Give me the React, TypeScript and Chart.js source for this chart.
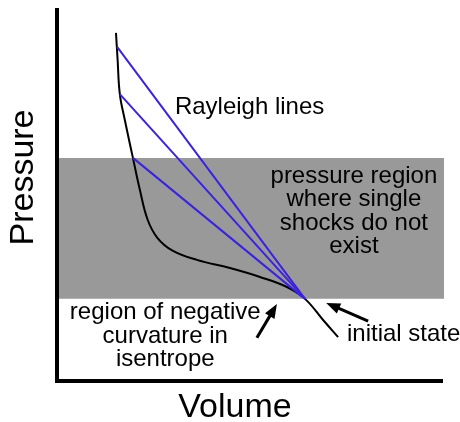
import { useEffect, useRef } from "react";
import { Chart, registerables } from "chart.js";

Chart.register(...registerables);

// Isentrope (volume, pressure) in arbitrary units
const isentropeVolume = [14.8, 15.2, 15.8, 17.1, 19.2, 21.0, 23.0, 25.6, 29.5, 35.8, 44.4, 52.2, 59.2, 63.9, 68.6, 72.5];
const isentropePressure = [93.3, 86.5, 76.8, 69.8, 59.6, 51.0, 43.0, 38.0, 34.6, 32.1, 29.9, 27.5, 24.8, 21.6, 15.9, 11.3];

// Shocked end states of the Rayleigh lines (on the isentrope)
const rayleighVolume = [15.1, 15.8, 19.2];
const rayleighPressure = [89.5, 76.8, 59.6];

// Initial state shared by all Rayleigh lines
const initialVolume = 63.9;
const initialPressure = 21.6;

// Pressure band where single shocks do not exist
const bandLow = initialPressure;
const bandHigh = 59.6;

const axisLabels = ["Volume", "Pressure"];
const rayleighLabel = ["Rayleigh lines"];
const bandLabel = ["pressure region", "where single", "shocks do not", "exist"];
const curvatureLabel = ["region of negative", "curvature in", "isentrope"];
const initialLabel = ["initial state"];

const FONT = '"Liberation Sans", Arial, Helvetica, sans-serif';
const BLUE = "#3b22e0";

function drawArrow(ctx: CanvasRenderingContext2D, x1: number, y1: number, x2: number, y2: number) {
  const a = Math.atan2(y2 - y1, x2 - x1);
  const headLen = 14;
  const headHalf = 5.5;
  const bx = x2 - headLen * Math.cos(a);
  const by = y2 - headLen * Math.sin(a);
  ctx.save();
  ctx.strokeStyle = "#000";
  ctx.fillStyle = "#000";
  ctx.lineWidth = 3;
  ctx.beginPath();
  ctx.moveTo(x1, y1);
  ctx.lineTo(bx + 2 * Math.cos(a), by + 2 * Math.sin(a));
  ctx.stroke();
  ctx.beginPath();
  ctx.moveTo(x2, y2);
  ctx.lineTo(bx - headHalf * Math.sin(a), by + headHalf * Math.cos(a));
  ctx.lineTo(bx + headHalf * Math.sin(a), by - headHalf * Math.cos(a));
  ctx.closePath();
  ctx.fill();
  ctx.restore();
}

const diagramPlugin = {
  id: "diagramDecor",
  afterDraw(chart: any) {
    const { ctx, chartArea, scales } = chart;
    const px = (v: number) => scales.x.getPixelForValue(v);
    const py = (v: number) => scales.y.getPixelForValue(v);

    ctx.save();
    // Axes
    ctx.strokeStyle = "#000";
    ctx.lineWidth = 4;
    ctx.lineJoin = "miter";
    ctx.beginPath();
    ctx.moveTo(chartArea.left - 2, chartArea.top);
    ctx.lineTo(chartArea.left - 2, chartArea.bottom + 2);
    ctx.lineTo(chartArea.right - 1, chartArea.bottom + 2);
    ctx.stroke();

    ctx.fillStyle = "#000";
    // Axis titles
    ctx.font = `34px ${FONT}`;
    ctx.textAlign = "center";
    ctx.textBaseline = "alphabetic";
    ctx.fillText(axisLabels[0], 235, chartArea.bottom + 38);
    ctx.save();
    ctx.translate(chartArea.left - 26, 177.5);
    ctx.rotate(-Math.PI / 2);
    ctx.fillText(axisLabels[1], 0, 0);
    ctx.restore();

    // Annotations
    ctx.font = `24px ${FONT}`;
    ctx.textAlign = "left";
    ctx.fillText(rayleighLabel[0], px(30.1), py(71.4));

    ctx.textAlign = "center";
    const bandY = [52.8, 46.6, 40.2, 34.0];
    bandLabel.forEach((t, i) => ctx.fillText(t, px(76.6), py(bandY[i])));

    const curvY = [16.2, 9.7, 3.5];
    curvatureLabel.forEach((t, i) => ctx.fillText(t, px(27.6), py(curvY[i])));

    ctx.textAlign = "left";
    ctx.fillText(initialLabel[0], px(74.8), py(10.2));

    // Arrows pointing at the curve
    drawArrow(ctx, px(51.4), py(11.1), px(56.6), py(20.2));
    drawArrow(ctx, px(80.3), py(15.6), px(69.4), py(20.5));
    ctx.restore();
  },
};

export default function App() {
  const canvasRef = useRef<HTMLCanvasElement | null>(null);

  useEffect(() => {
    if (!canvasRef.current) return;
    const isentrope = isentropeVolume.map((v, i) => ({ x: v, y: isentropePressure[i] }));
    const rayleigh = rayleighVolume.map((v, i) => ({
      data: [
        { x: v, y: rayleighPressure[i] },
        { x: initialVolume, y: initialPressure },
      ],
      borderColor: BLUE,
      borderWidth: 2,
      pointRadius: 0,
      fill: false,
      order: 1,
    }));

    const chart = new Chart(canvasRef.current, {
      type: "line",
      data: {
        datasets: [
          {
            data: [
              { x: 0, y: bandHigh },
              { x: 100, y: bandHigh },
            ],
            borderWidth: 0,
            borderColor: "rgba(0,0,0,0)",
            backgroundColor: "#999999",
            pointRadius: 0,
            fill: { value: bandLow },
            order: 3,
          },
          {
            data: isentrope,
            borderColor: "#000",
            borderWidth: 2,
            pointRadius: 0,
            tension: 0.4,
            fill: false,
            order: 2,
          },
          ...rayleigh,
        ] as any,
      },
      options: {
        responsive: false,
        animation: false,
        layout: { padding: { left: 59, right: 16, top: 8, bottom: 43 } },
        scales: {
          x: { type: "linear", min: 0, max: 100, display: false },
          y: { type: "linear", min: 0, max: 100, display: false },
        },
        plugins: {
          legend: { display: false },
          tooltip: { enabled: false },
        },
      },
      plugins: [diagramPlugin],
    });
    return () => chart.destroy();
  }, []);

  return (
    <div style={{ position: "fixed", left: 0, top: 0, width: 460, height: 422, background: "#fff" }}>
      <canvas ref={canvasRef} width={460} height={422} />
    </div>
  );
}
